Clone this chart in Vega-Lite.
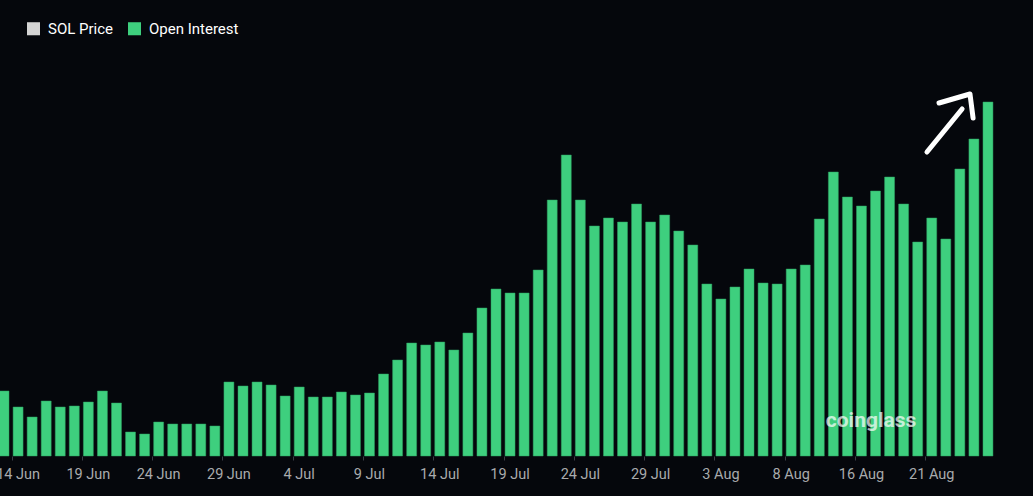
{
  "$schema": "https://vega.github.io/schema/vega-lite/v6.json",
  "autosize": {"type": "none"},
  "width": 998,
  "height": 406,
  "padding": {"left": -3, "top": 50, "right": 38, "bottom": 40},
  "background": "#05070c",
  "config": {
    "view": {"stroke": null},
    "font": "Roboto"
  },
  "layer": [
    {
      "data": {"values": [
        {"d": "13 Jun", "v": 65}, {"d": "14 Jun", "v": 49}, {"d": "15 Jun", "v": 39}, {"d": "16 Jun", "v": 55},
        {"d": "17 Jun", "v": 49}, {"d": "18 Jun", "v": 50}, {"d": "19 Jun", "v": 54}, {"d": "20 Jun", "v": 65},
        {"d": "21 Jun", "v": 53}, {"d": "22 Jun", "v": 24}, {"d": "23 Jun", "v": 22}, {"d": "24 Jun", "v": 34},
        {"d": "25 Jun", "v": 32}, {"d": "26 Jun", "v": 32}, {"d": "27 Jun", "v": 32}, {"d": "28 Jun", "v": 30},
        {"d": "29 Jun", "v": 74}, {"d": "30 Jun", "v": 70}, {"d": "1 Jul", "v": 74}, {"d": "2 Jul", "v": 71},
        {"d": "3 Jul", "v": 60}, {"d": "4 Jul", "v": 69}, {"d": "5 Jul", "v": 59}, {"d": "6 Jul", "v": 59},
        {"d": "7 Jul", "v": 64}, {"d": "8 Jul", "v": 61}, {"d": "9 Jul", "v": 63}, {"d": "10 Jul", "v": 82},
        {"d": "11 Jul", "v": 96}, {"d": "12 Jul", "v": 113}, {"d": "13 Jul", "v": 111}, {"d": "14 Jul", "v": 114},
        {"d": "15 Jul", "v": 106}, {"d": "16 Jul", "v": 123}, {"d": "17 Jul", "v": 148}, {"d": "18 Jul", "v": 167},
        {"d": "19 Jul", "v": 163}, {"d": "20 Jul", "v": 163}, {"d": "21 Jul", "v": 186}, {"d": "22 Jul", "v": 256},
        {"d": "23 Jul", "v": 301}, {"d": "24 Jul", "v": 256}, {"d": "25 Jul", "v": 230}, {"d": "26 Jul", "v": 238},
        {"d": "27 Jul", "v": 234}, {"d": "28 Jul", "v": 252}, {"d": "29 Jul", "v": 234}, {"d": "30 Jul", "v": 241},
        {"d": "31 Jul", "v": 225}, {"d": "1 Aug", "v": 211}, {"d": "2 Aug", "v": 172}, {"d": "3 Aug", "v": 157},
        {"d": "4 Aug", "v": 169}, {"d": "5 Aug", "v": 187}, {"d": "6 Aug", "v": 173}, {"d": "7 Aug", "v": 172},
        {"d": "8 Aug", "v": 187}, {"d": "9 Aug", "v": 191}, {"d": "10 Aug", "v": 237}, {"d": "11 Aug", "v": 284},
        {"d": "12 Aug", "v": 259}, {"d": "16 Aug", "v": 250}, {"d": "17 Aug", "v": 265}, {"d": "18 Aug", "v": 279},
        {"d": "19 Aug", "v": 252}, {"d": "20 Aug", "v": 214}, {"d": "21 Aug", "v": 238}, {"d": "22 Aug", "v": 217},
        {"d": "23 Aug", "v": 287}, {"d": "24 Aug", "v": 317}, {"d": "25 Aug", "v": 354}
      ]},
      "mark": {"type": "bar", "stroke": "#2f9e60", "strokeWidth": 0.5},
      "encoding": {
        "x": {
          "field": "d", "type": "ordinal", "sort": null,
          "scale": {"paddingInner": 0.29, "paddingOuter": 0.145},
          "axis": {
            "title": null,
            "values": ["14 Jun", "19 Jun", "24 Jun", "29 Jun", "4 Jul", "9 Jul", "14 Jul", "19 Jul", "24 Jul", "29 Jul", "3 Aug", "8 Aug", "16 Aug", "21 Aug"],
            "bandPosition": -0.1,
            "labelAngle": 0,
            "labelAlign": "center",
            "labelColor": "#a9abad",
            "labelFontSize": 14.5,
            "labelFont": "Roboto",
            "labelPadding": 7,
            "tickColor": "#3a3d44",
            "tickSize": 4,
            "domain": false,
            "grid": false
          }
        },
        "y": {"field": "v", "type": "quantitative", "scale": {"domain": [0, 406], "nice": false, "zero": true}, "axis": null},
        "color": {
          "datum": "Open Interest",
          "scale": {"domain": ["SOL Price", "Open Interest"], "range": ["#d4d4d4", "#3ecf7e"]},
          "legend": {
            "title": null,
            "orient": "none",
            "legendX": 29,
            "legendY": -29,
            "direction": "horizontal",
            "symbolType": "square",
            "symbolSize": 170,
            "symbolStrokeWidth": 0,
            "labelFontSize": 15,
            "labelFont": "Roboto",
            "labelOffset": 7,
            "columnPadding": 13,
            "labelColor": "#ffffff",
            "encode": {
              "labels": {"update": {"fill": {"signal": "datum.label === 'SOL Price' ? '#b5b7ba' : '#ffffff'"}}}
            }
          }
        }
      }
    },
    {
      "data": {"values": [
        {"part": "shaft", "o": 1, "x": 66.16, "y": 304},
        {"part": "shaft", "o": 2, "x": 68.66, "y": 347},
        {"part": "head", "o": 1, "x": 67.02, "y": 353},
        {"part": "head", "o": 2, "x": 69.22, "y": 362},
        {"part": "head", "o": 3, "x": 69.44, "y": 338}
      ]},
      "mark": {"type": "line", "color": "#ffffff", "strokeWidth": 5, "strokeCap": "round", "strokeJoin": "round"},
      "encoding": {
        "x": {"field": "x", "type": "quantitative", "scale": {"domain": [0, 71], "nice": false, "zero": false}, "axis": null},
        "y": {"field": "y", "type": "quantitative"},
        "detail": {"field": "part"},
        "order": {"field": "o"}
      }
    },
    {
      "data": {"values": [{"label": "coinglass", "x": 62.18, "y": 35}]},
      "mark": {"type": "text", "font": "Roboto", "fontWeight": "bold", "fontSize": 21, "color": "#ffffff", "opacity": 0.7, "align": "center", "baseline": "middle"},
      "encoding": {
        "x": {"field": "x", "type": "quantitative", "scale": {"domain": [0, 71], "nice": false, "zero": false}, "axis": null},
        "y": {"field": "y", "type": "quantitative"},
        "text": {"field": "label"}
      }
    }
  ],
  "resolve": {"scale": {"x": "independent"}, "axis": {"x": "independent"}}
}
